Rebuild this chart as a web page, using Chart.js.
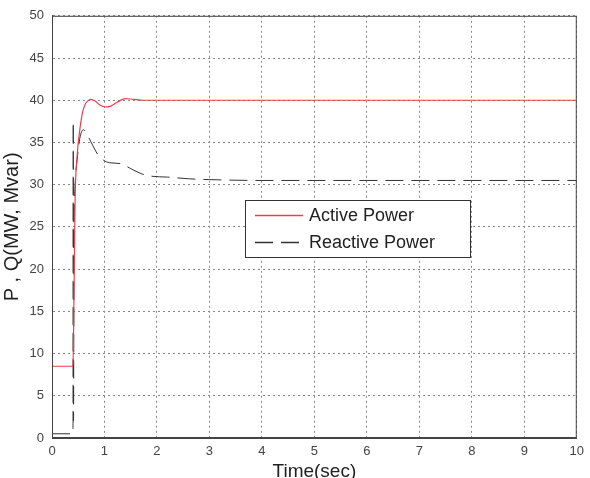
<!DOCTYPE html>
<html>
<head>
<meta charset="utf-8">
<script src="https://cdn.jsdelivr.net/npm/chart.js@4"></script>
<style>
  html, body { margin: 0; padding: 0; background: #fff; }
  #wrap { width: 590px; height: 478px; }
</style>
</head>
<body>
<div id="wrap"><canvas id="chart" width="590" height="478"></canvas></div>
<script>
'use strict';

// Active power (MW) vs time (sec)
const activeTime   = [0, 0.4, 0.41, 0.44, 0.48, 0.53, 0.58, 0.63, 0.68, 0.74, 0.82, 0.92, 1.02, 1.12, 1.25, 1.4, 1.55, 1.75, 2.0, 10];
const activeValues = [8.5, 8.5, 12, 28, 33.5, 36.5, 38.5, 39.5, 39.9, 40.1, 39.9, 39.4, 39.2, 39.3, 39.8, 40.2, 40.1, 40.0, 40.0, 40.0];

// Reactive power (Mvar) vs time (sec)
const reactiveTime   = [0, 0.4, 0.405, 0.41, 0.42, 0.44, 0.48, 0.53, 0.6, 0.68, 0.78, 0.88, 0.98, 1.1, 1.3, 1.5, 1.7, 1.9, 2.2, 2.6, 3.0, 4.0, 10];
const reactiveValues = [0.5, 0.5, 37.5, 2, 24, 30, 33, 35.5, 36.5, 35.8, 34.6, 33.5, 32.9, 32.6, 32.5, 31.9, 31.3, 31.0, 30.9, 30.7, 30.6, 30.5, 30.5];

const seriesLabels = ['Active Power', 'Reactive Power'];
const seriesColors = ['#e8404a', '#333333'];
const xTicks = [0, 1, 2, 3, 4, 5, 6, 7, 8, 9, 10];
const yTicks = [0, 5, 10, 15, 20, 25, 30, 35, 40, 45, 50];

const toPoints = (xs, ys) => xs.map((x, i) => ({ x: x, y: ys[i] }));

const FONT = "'Liberation Sans', Arial, sans-serif";

// cadre + légende dessinés à la main (style MATLAB)
const boxAndLegend = {
    id: 'boxAndLegend',
    afterDatasetsDraw(chart) {
        const ctx = chart.ctx;
        const a = chart.chartArea;
        ctx.save();
        ctx.strokeStyle = '#444';
        ctx.lineWidth = 1;
        ctx.strokeRect(a.left + 0.5, a.top + 0.5, a.right - a.left - 1, a.bottom - a.top - 1);

        // légende
        const lx = 245, ly = 200, lw = 225, lh = 57;
        ctx.fillStyle = '#fff';
        ctx.fillRect(lx, ly, lw, lh);
        ctx.strokeStyle = '#333';
        ctx.strokeRect(lx + 0.5, ly + 0.5, lw, lh);

        ctx.font = '18px ' + FONT;
        ctx.textBaseline = 'middle';
        seriesLabels.forEach((label, i) => {
            const y = ly + 15 + i * 27;
            ctx.beginPath();
            ctx.strokeStyle = seriesColors[i];
            ctx.lineWidth = 1.3;
            ctx.setLineDash(i === 1 ? [18, 8] : []);
            ctx.moveTo(lx + 10, y + 0.5);
            ctx.lineTo(lx + 58, y + 0.5);
            ctx.stroke();
            ctx.setLineDash([]);
            ctx.fillStyle = '#222';
            ctx.fillText(label, lx + 64, y + 1);
        });
        ctx.restore();
    }
};

new Chart(document.getElementById('chart'), {
    type: 'line',
    data: {
        datasets: [
            {
                label: seriesLabels[0],
                data: toPoints(activeTime, activeValues),
                borderColor: seriesColors[0],
                borderWidth: 1.2,
                pointRadius: 0,
                cubicInterpolationMode: 'monotone',
                fill: false
            },
            {
                label: seriesLabels[1],
                data: toPoints(reactiveTime, reactiveValues),
                borderColor: seriesColors[1],
                borderWidth: 1,
                borderDash: [18, 8],
                pointRadius: 0,
                cubicInterpolationMode: 'monotone',
                fill: false
            }
        ]
    },
    options: {
        responsive: false,
        animation: false,
        layout: { padding: { top: 12, right: 7, left: 0, bottom: 0 } },
        plugins: {
            legend: { display: false },
            tooltip: { enabled: false }
        },
        scales: {
            x: {
                type: 'linear',
                min: 0,
                max: 10,
                afterFit: (scale) => { scale.height = 40; },
                afterBuildTicks: (scale) => { scale.ticks = xTicks.map(v => ({ value: v })); },
                grid: { color: '#888', lineWidth: 1, drawTicks: false },
                border: { display: true, color: '#444', dash: [2, 3] },
                ticks: { color: '#444', font: { family: FONT, size: 13 }, padding: 6, maxRotation: 0 },
                title: {
                    display: true,
                    text: 'Time(sec)',
                    color: '#222',
                    font: { family: FONT, size: 19 },
                    padding: { top: 0, bottom: -5 }
                }
            },
            y: {
                min: 0,
                max: 50,
                afterFit: (scale) => { scale.width = 52; },
                afterBuildTicks: (scale) => { scale.ticks = yTicks.map(v => ({ value: v })); },
                grid: { color: '#888', lineWidth: 1, drawTicks: false },
                border: { display: true, color: '#444', dash: [2, 3] },
                ticks: { color: '#444', font: { family: FONT, size: 13 }, padding: 8 },
                title: {
                    display: true,
                    text: 'P , Q(MW, Mvar)',
                    color: '#222',
                    font: { family: FONT, size: 20 },
                    padding: { top: 0, bottom: 0 }
                }
            }
        }
    },
    plugins: [boxAndLegend]
});
</script>
</body>
</html>
